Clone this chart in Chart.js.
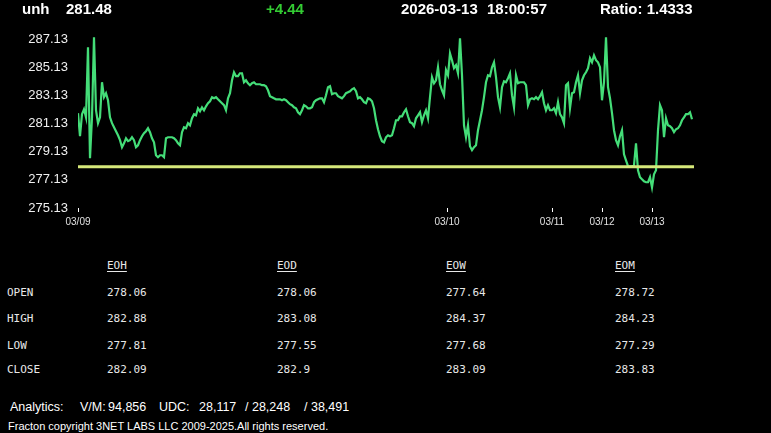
<!DOCTYPE html>
<html>
<head>
<meta charset="utf-8">
<script src="https://cdn.jsdelivr.net/npm/chart.js@4.4.1/dist/chart.umd.min.js"></script>
<style>
  html, body { margin: 0; padding: 0; background: #000; }
  body { width: 771px; height: 433px; position: relative; overflow: hidden; font-family: "Liberation Sans", Arial, sans-serif; color: #fff; }
  .t { position: absolute; white-space: pre; }
  .hd { font-weight: bold; font-size: 15px; height: 18px; line-height: 18px; }
  .mono { font-family: "DejaVu Sans Mono", monospace; font-size: 11px; color: #e8e8e8; height: 14px; line-height: 14px; }
  #wrap { position: absolute; left: 0; top: 0; width: 771px; height: 240px; }
</style>
</head>
<body>
<div id="wrap"><canvas id="c"></canvas></div>
<div id="txt"></div>
<script>
// header
const SYMBOL = 'unh', LAST = '281.48', CHANGE = '+4.44', DATE = '2026-03-13', TIME = '18:00:57', RATIO = 'Ratio: 1.4333';

// price path, one reading every ~2px of the original trace (03/09 .. 03/13)
const PRICES = [
  281.87, 280.23, 281.80, 282.15, 281.58, 286.56, 278.67, 281.58, 287.27, 282.08,
  281.16, 281.58, 284.07, 283.01, 283.29, 282.79, 281.58, 281.16, 280.87, 280.59,
  280.30, 279.95, 279.45, 279.73, 280.09, 279.88, 279.95, 280.16, 279.95, 279.45,
  279.59, 279.95, 280.23, 280.45, 280.59, 280.80, 280.52, 280.09, 279.80, 278.88,
  278.74, 278.88, 278.88, 278.74, 280.09, 280.16, 280.16, 280.16, 280.09, 279.95,
  279.73, 279.59, 280.52, 280.87, 280.80, 281.16, 281.01, 281.51, 281.80, 281.72,
  282.22, 282.01, 282.29, 282.08, 282.36, 282.58, 282.72, 283.01, 282.93, 283.01,
  282.86, 282.72, 282.58, 282.44, 282.08, 282.93, 283.29, 284.21, 284.78, 284.50,
  284.50, 284.71, 284.71, 284.07, 284.21, 284.00, 283.86, 284.00, 284.07, 283.93,
  283.93, 283.93, 283.86, 283.86, 283.79, 283.50, 283.08, 283.01, 282.93, 282.86,
  282.86, 282.86, 282.79, 282.86, 282.79, 282.65, 282.51, 282.44, 282.29, 282.22,
  281.94, 281.80, 282.08, 282.44, 282.36, 282.22, 282.22, 282.29, 282.65, 282.79,
  282.86, 282.93, 282.93, 282.65, 283.15, 283.72, 283.79, 283.22, 283.29, 283.29,
  283.08, 283.01, 282.93, 283.08, 283.29, 283.36, 283.43, 283.57, 283.65, 283.43,
  282.93, 283.01, 282.86, 282.65, 282.58, 282.93, 282.86, 282.72, 282.22, 281.37,
  280.73, 280.23, 279.88, 279.80, 280.16, 280.30, 280.23, 280.30, 280.80, 281.37,
  281.37, 281.65, 281.65, 281.94, 282.15, 281.65, 281.23, 281.16, 280.94, 281.51,
  281.72, 281.94, 281.23, 281.72, 282.08, 281.51, 283.01, 284.43, 284.00, 284.21,
  285.14, 283.93, 283.50, 283.15, 284.93, 284.57, 286.13, 285.64, 285.07, 285.28,
  284.71, 287.20, 284.57, 281.01, 280.16, 281.01, 279.52, 279.24, 279.45, 279.59,
  280.66, 281.37, 282.08, 283.01, 284.07, 284.57, 284.50, 285.14, 285.49, 284.43,
  283.01, 282.29, 283.72, 284.14, 284.07, 284.36, 284.71, 283.15, 282.29, 284.57,
  284.00, 284.07, 284.07, 284.07, 283.86, 282.44, 282.86, 282.93, 282.86, 283.01,
  282.86, 283.08, 283.36, 282.58, 282.08, 282.44, 282.08, 282.08, 282.22, 281.87,
  282.65, 281.80, 281.58, 281.16, 283.86, 284.00, 282.22, 283.29, 283.36, 284.07,
  284.57, 283.29, 284.21, 284.57, 284.78, 285.07, 285.78, 285.49, 285.99, 285.64,
  285.49, 285.14, 282.79, 284.07, 287.27, 283.72, 282.93, 281.87, 280.66, 279.95,
  279.59, 280.23, 280.66, 278.95, 278.52, 278.10, 278.10, 278.10, 278.17, 279.73,
  277.81, 277.32, 277.17, 277.03, 276.96, 276.96, 277.32, 276.60, 277.53, 277.81,
  280.66, 282.44, 282.08, 280.16, 281.51, 281.01, 280.94, 280.80, 280.52, 280.73,
  280.80, 281.01, 281.37, 281.58, 281.80, 281.80, 281.94, 281.44
];
const OPEN_LINE = 278.06;

// axes
const Y_TICKS = [275.13, 277.13, 279.13, 281.13, 283.13, 285.13, 287.13];
const Y_MIN = 275.13, Y_MAX = 287.43;
const DAY_LABELS = ['03/09', '03/10', '03/11', '03/12', '03/13'];
const DAY_AT = [0, 184.5, 237, 262, 287];   // sample index where each session starts
const X_END = 308;

// stats table
const COLS = ['EOH', 'EOD', 'EOW', 'EOM'];
const ROWS = ['OPEN', 'HIGH', 'LOW', 'CLOSE'];
const OPEN  = ['278.06', '278.06', '277.64', '278.72'];
const HIGH  = ['282.88', '283.08', '284.37', '284.23'];
const LOW   = ['277.81', '277.55', '277.68', '277.29'];
const CLOSE = ['282.09', '282.9', '283.09', '283.83'];

// footer
const VM = '94,856', UDC = ['28,117', '28,248', '38,491'];
const COPY = 'Fracton copyright 3NET LABS LLC 2009-2025.All rights reserved.';

const txt = document.getElementById('txt');
function put(s, x, y, cls, style) {
  const d = document.createElement('div');
  d.className = 't ' + (cls || '');
  d.textContent = s;
  d.style.left = x + 'px';
  d.style.top = y + 'px';
  if (style) Object.assign(d.style, style);
  txt.appendChild(d);
  return d;
}

put(SYMBOL, 22, 0, 'hd');
put(LAST, 66, 0, 'hd');
put(CHANGE, 266, 0, 'hd', { color: '#33cc33' });
put(DATE, 401, 0, 'hd');
put(TIME, 487, 0, 'hd');
put(RATIO, 600, 0, 'hd');

const colX = [107, 277, 446, 615];
const rowY = [286, 312, 339, 363];
COLS.forEach((c, i) => put(c, colX[i], 259, 'mono', { textDecoration: 'underline', textUnderlineOffset: '2px' }));
[OPEN, HIGH, LOW, CLOSE].forEach((vals, r) => {
  put(ROWS[r], 7, rowY[r], 'mono');
  vals.forEach((v, i) => put(v, colX[i], rowY[r], 'mono'));
});

const ft = { fontSize: '12.5px', height: '16px', lineHeight: '16px' };
put('Analytics:', 10, 399, '', ft);
put('V/M:', 80, 399, '', ft);
put(VM, 108, 399, '', ft);
put('UDC:', 159, 399, '', ft);
put(UDC[0], 199, 399, '', ft);
put('/ ' + UDC[1], 245, 399, '', ft);
put('/ ' + UDC[2], 304, 399, '', ft);
put(COPY, 8, 419, '', { fontSize: '11px', height: '14px', lineHeight: '14px' });

// chart
new Chart(document.getElementById('c'), {
  type: 'line',
  data: {
    datasets: [
      { data: [{ x: 0, y: OPEN_LINE }, { x: X_END, y: OPEN_LINE }], borderColor: '#d6e87a', borderWidth: 3, pointRadius: 0, order: 0 },
      { data: PRICES.map((v, i) => ({ x: i, y: v })), borderColor: '#44dd78', borderWidth: 2.2, pointRadius: 0, tension: 0, order: 1 },
    ],
  },
  options: {
    animation: false, responsive: true, maintainAspectRatio: false,
    layout: { padding: { top: 35, left: 0, right: 77, bottom: 0 }, autoPadding: false },
    plugins: { legend: { display: false }, tooltip: { enabled: false } },
    scales: {
      x: {
        type: 'linear', min: 0, max: X_END,
        afterBuildTicks: s => { s.ticks = DAY_AT.map(v => ({ value: v })); },
        afterFit: s => { s.height = 32; },
        ticks: {
          color: '#e0e0e0', padding: 4, maxRotation: 0, autoSkip: false,
          font: { family: 'Liberation Sans', size: 10 },
          callback: v => DAY_LABELS[DAY_AT.indexOf(v)] ?? '',
        },
        grid: { display: true, drawOnChartArea: false, drawTicks: true, tickLength: 4, color: '#fff' },
        border: { display: false },
      },
      y: {
        min: Y_MIN, max: Y_MAX,
        afterBuildTicks: s => { s.ticks = Y_TICKS.map(v => ({ value: v })); },
        afterFit: s => { s.width = 78; },
        ticks: { color: '#f0f0f0', padding: 2, font: { family: 'Liberation Sans', size: 13 }, callback: v => v.toFixed(2) },
        grid: { display: false },
        border: { display: false },
      },
    },
  },
});
</script>
</body>
</html>
